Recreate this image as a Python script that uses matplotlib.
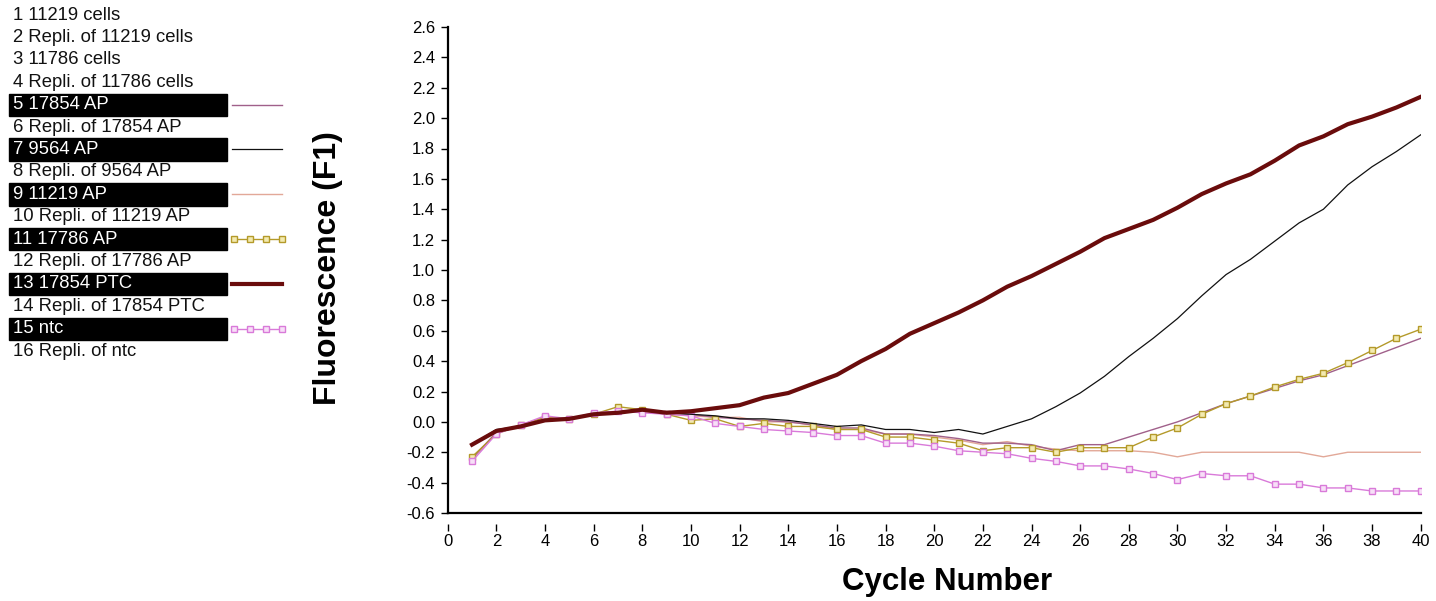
import numpy as np
import matplotlib
matplotlib.use("Agg")
import matplotlib.pyplot as plt
from matplotlib.patches import Rectangle

plt.rcParams["font.family"] = ["Liberation Sans", "DejaVu Sans"]
plt.rcParams["axes.unicode_minus"] = False

# Cycle numbers and fluorescence readings
cycles = list(range(1, 41))

ap_17854 = [-0.24, -0.07, -0.03, 0.02, 0.02, 0.05, 0.07, 0.08, 0.06, 0.05,
            0.03, 0.02, 0.01, 0.00, -0.02, -0.04, -0.04, -0.08, -0.08, -0.09,
            -0.11, -0.14, -0.14, -0.15, -0.19, -0.15, -0.15, -0.10, -0.05, 0.00,
            0.06, 0.12, 0.17, 0.22, 0.27, 0.31, 0.37, 0.43, 0.49, 0.55]

ap_9564 = [-0.15, -0.05, -0.03, 0.01, 0.02, 0.05, 0.06, 0.08, 0.06, 0.05,
           0.04, 0.02, 0.02, 0.01, -0.01, -0.03, -0.02, -0.05, -0.05, -0.07,
           -0.05, -0.08, -0.03, 0.02, 0.10, 0.19, 0.30, 0.43, 0.55, 0.68,
           0.83, 0.97, 1.07, 1.19, 1.31, 1.40, 1.56, 1.68, 1.78, 1.89]

ap_11219 = [-0.25, -0.07, -0.02, 0.03, 0.02, 0.05, 0.07, 0.07, 0.05, 0.04,
            0.03, 0.03, 0.00, 0.00, -0.02, -0.05, -0.05, -0.08, -0.08, -0.10,
            -0.12, -0.15, -0.13, -0.16, -0.18, -0.19, -0.19, -0.19, -0.20, -0.23,
            -0.20, -0.20, -0.20, -0.20, -0.20, -0.23, -0.20, -0.20, -0.20, -0.20]

ap_17786 = [-0.23, -0.08, -0.02, 0.03, 0.02, 0.05, 0.10, 0.08, 0.05, 0.01,
            0.02, -0.03, -0.01, -0.03, -0.03, -0.05, -0.05, -0.10, -0.10, -0.12,
            -0.14, -0.19, -0.17, -0.17, -0.20, -0.17, -0.17, -0.17, -0.10, -0.04,
            0.05, 0.12, 0.17, 0.23, 0.28, 0.32, 0.39, 0.47, 0.55, 0.61]

ptc_17854 = [-0.15, -0.06, -0.03, 0.01, 0.02, 0.05, 0.06, 0.08, 0.06, 0.07,
             0.09, 0.11, 0.16, 0.19, 0.25, 0.31, 0.40, 0.48, 0.58, 0.65,
             0.72, 0.80, 0.89, 0.96, 1.04, 1.12, 1.21, 1.27, 1.33, 1.41,
             1.50, 1.57, 1.63, 1.72, 1.82, 1.88, 1.96, 2.01, 2.07, 2.14]

ntc = [-0.26, -0.08, -0.02, 0.04, 0.02, 0.06, 0.07, 0.06, 0.05, 0.04,
       -0.01, -0.03, -0.05, -0.06, -0.07, -0.09, -0.09, -0.14, -0.14, -0.16,
       -0.19, -0.20, -0.21, -0.24, -0.26, -0.29, -0.29, -0.31, -0.34, -0.38,
       -0.34, -0.355, -0.355, -0.41, -0.41, -0.435, -0.435, -0.455, -0.455, -0.455]

sample_names = ["1 11219 cells", "2 Repli. of 11219 cells", "3 11786 cells",
                "4 Repli. of 11786 cells", "5 17854 AP", "6 Repli. of 17854 AP",
                "7 9564 AP", "8 Repli. of 9564 AP", "9 11219 AP",
                "10 Repli. of 11219 AP", "11 17786 AP", "12 Repli. of 17786 AP",
                "13 17854 PTC", "14 Repli. of 17854 PTC", "15 ntc",
                "16 Repli. of ntc"]

x_ticks = list(range(0, 41, 2))
y_ticks = [round(v, 1) for v in np.arange(-0.6, 2.61, 0.2)]

# line style for each plotted sample (legend row -> style)
styles = {
    5: dict(color="#a0608a", lw=1.0),
    7: dict(color="#111111", lw=0.9),
    9: dict(color="#e2a898", lw=1.0),
    11: dict(color="#b49a2a", lw=1.0, marker="s", ms=5, mfc="#f3eab0", mec="#b49a2a", mew=1.0),
    13: dict(color="#6a0c0c", lw=3.0),
    15: dict(color="#d97ad9", lw=1.0, marker="s", ms=5, mfc="#f7dff7", mec="#d97ad9", mew=1.0),
}
series = {5: ap_17854, 9: ap_11219, 7: ap_9564, 11: ap_17786, 15: ntc, 13: ptc_17854}

W, H = 1436, 601
fig = plt.figure(figsize=(W / 100, H / 100), dpi=100)
ax = fig.add_axes([447.7 / W, 1 - 513 / H, (1420.7 - 447.7) / W, (513 - 27) / H])

for key in [9, 5, 11, 15, 7, 13]:
    ax.plot(cycles, series[key], **styles[key], zorder=3 if key != 13 else 4)

ax.set_xlim(0, 40)
ax.set_ylim(-0.6, 2.6)
ax.set_xticks(x_ticks)
ax.set_yticks(y_ticks)
ax.set_yticklabels([f"{v:.1f}" for v in y_ticks])
ax.tick_params(axis="both", direction="out", labelsize=12, width=1, colors="black")
ax.tick_params(axis="y", length=5, pad=4)
ax.tick_params(axis="x", length=5, pad=2)

for side in ["top", "right"]:
    ax.spines[side].set_visible(False)
ax.spines["left"].set_linewidth(1.6)
# x tick marks sit a little below the axis line
ax.spines["bottom"].set_position(("outward", 8))
ax.spines["bottom"].set_color("none")
ax.axhline(-0.6, color="black", lw=1.6, clip_on=False, zorder=5)

fig.text(328 / W, 1 - 268 / H, "Fluorescence (F1)", rotation=90, fontsize=23,
         fontweight="bold", ha="center", va="center")
fig.text(947 / W, 1 - 582 / H, "Cycle Number", fontsize=22.5, fontweight="bold",
         ha="center", va="center")

# sample list on the left, in pixel coordinates
lg = fig.add_axes([0, 0, 1, 1])
lg.set_xlim(0, W)
lg.set_ylim(H, 0)
lg.axis("off")
row_h = 22.4
for i, name in enumerate(sample_names, start=1):
    yc = 15.1 + (i - 1) * row_h
    if i in styles:
        lg.add_patch(Rectangle((9, yc - row_h / 2), 218, row_h, color="black"))
        lg.text(13, yc, name, color="white", fontsize=13.3, va="center", ha="left")
        st = dict(styles[i])
        if "marker" in st:
            lg.plot(np.linspace(234, 282, 4), [yc] * 4, **st)
        else:
            lg.plot([232, 282], [yc, yc], **st)
    else:
        lg.text(13, yc, name, color="#111111", fontsize=13.3, va="center", ha="left")

fig.savefig("out.png", dpi=100)
